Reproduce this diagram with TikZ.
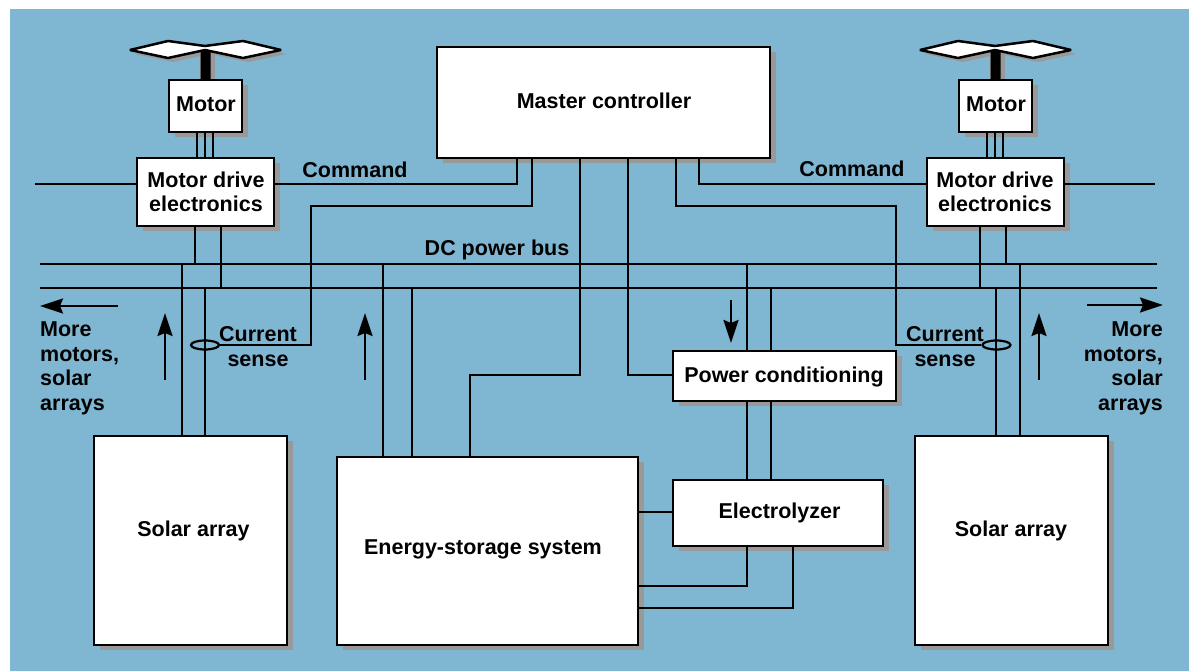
\documentclass[tikz,border=0pt]{standalone}
\usepackage{fontspec}
\setmainfont{Liberation Sans}
\usetikzlibrary{shadows,arrows.meta,shapes.geometric}
\definecolor{bgblue}{HTML}{7FB6D2}
\definecolor{shadowgray}{HTML}{999999}
\tikzset{
  wire/.style={line width=2.2pt,line cap=butt,line join=miter},
  flow/.style={line width=2.4pt,-{Stealth[length=23pt,width=15pt,inset=3pt]}},
  lbl/.style={font=\fontsize{21.5}{24.5}\selectfont\bfseries,align=center,inner sep=0pt},
  lbll/.style={lbl,align=left,anchor=north west},
  lblr/.style={lbl,align=right,anchor=north east},
  unit/.style={draw=black,fill=white,line width=2.6pt,inner sep=0pt,lbl,
    drop shadow={shadow xshift=6pt,shadow yshift=-5pt,opacity=1,fill=shadowgray}},
  blade/.style={draw=black,fill=white,line width=2.5pt,line join=bevel},
  ring/.style={draw=black,line width=2.2pt,ellipse,minimum width=28pt,minimum height=9pt,inner sep=0pt}
}
\newcommand{\unitbox}[5]{% name x1 y1 x2 y2
  \node[unit,minimum width={(#4-#2)*1pt},minimum height={(#5-#3)*1pt}] (#1) at ({(#2+#4)/2},{(#3+#5)/2}) {};
}
\newcommand{\propeller}[1]{% x offset
  \begin{scope}[xshift=#1pt]
    \fill[shadowgray] (200,50) rectangle (215,82);
    \fill[shadowgray,shift={(5pt,-4pt)}] (130,50) -- (168,41) -- (205,46) -- (243,41) -- (281,50) -- (243,58) -- (205,50) -- (168,58) -- cycle;
    \draw[blade] (130,50) -- (168,41) -- (205,46) -- (243,41) -- (281,50) -- (243,58) -- (205,50) -- (168,58) -- cycle;
    \fill[black] (200.5,51) -- (205.5,49) -- (210.5,51) -- (210.5,81) -- (200.5,81) -- cycle;
  \end{scope}
}
\begin{document}
\begin{tikzpicture}[x=1pt,y=-1pt]
\useasboundingbox (0,0) rectangle (1189,671);
\fill[bgblue] (10,9) rectangle (1189,671);
% helper coordinates
\foreach \v in {35,137,165,182,195,197,205,213,221,311,365,383,412,470,517,532,580,628,676,699,731,747,771,793,896,980,987,995,1003,996,1006,1020,1039,1155,1064}
  {\coordinate (x\v) at (\v,0);}
\coordinate (b1l) at (40,264); \coordinate (b1r) at (1157,264);
\coordinate (b2l) at (40,288); \coordinate (b2r) at (1157,288);
\coordinate (yc) at (0,184);
\coordinate (ys) at (0,206);
\coordinate (ym) at (0,375);
% propellers
\propeller{0}
\propeller{790}
% boxes
\unitbox{motl}{169}{80}{242}{132}
\unitbox{mdel}{137}{158}{274}{226}
\unitbox{mc}{437}{47}{770}{158}
\unitbox{motr}{959}{80}{1032}{132}
\unitbox{mder}{927}{158}{1064}{226}
\unitbox{pc}{673}{351}{896}{401}
\unitbox{ely}{673}{480}{883}{546}
\unitbox{ess}{337}{457}{638}{645}
\unitbox{sal}{94}{436}{287}{645}
\unitbox{sar}{915}{436}{1108}{645}
% buses
\draw[wire] (b1l) -- (b1r);
\draw[wire] (b2l) -- (b2r);
% motor to drive
\foreach \v in {197,205,213} {\draw[wire] (x\v |- motl.south) -- (x\v |- mdel.north);}
\foreach \v in {987,995,1003} {\draw[wire] (x\v |- motr.south) -- (x\v |- mder.north);}
% drive to bus
\draw[wire] (x195 |- mdel.south) -- (x195 |- b1l);
\draw[wire] (x221 |- mdel.south) -- (x221 |- b2l);
\draw[wire] (x980 |- mder.south) -- (x980 |- b2l);
\draw[wire] (x1006 |- mder.south) -- (x1006 |- b1l);
% solar to bus
\draw[wire] (x182 |- sal.north) -- (x182 |- b1l);
\draw[wire] (x205 |- sal.north) -- (x205 |- b2l);
\draw[wire] (x996 |- sar.north) -- (x996 |- b2l);
\draw[wire] (x1020 |- sar.north) -- (x1020 |- b1l);
% drive outer lines and commands
\draw[wire] (x35 |- yc) -- (mdel.west |- yc);
\draw[wire] (mder.east |- yc) -- (x1155 |- yc);
\draw[wire] (mdel.east |- yc) -- (x517 |- yc) -- (x517 |- mc.south);
\draw[wire] (mder.west |- yc) -- (x699 |- yc) -- (x699 |- mc.south);
% current sense
\node[ring] (rl) at (205,345) {};
\node[ring] (rr) at (996.5,345) {};
\draw[wire] (x532 |- mc.south) -- (x532 |- ys) -- (x311 |- ys) -- (x311 |- rl.east) -- (rl.east);
\draw[wire] (x676 |- mc.south) -- (x676 |- ys) -- (x896 |- ys) -- (x896 |- rr.west) -- (rr.west);
% master to storage and conditioning
\draw[wire] (x580 |- mc.south) -- (x580 |- ym) -- (x470 |- ym) -- (x470 |- ess.north);
\draw[wire] (x628 |- mc.south) -- (x628 |- ym) -- (pc.west |- ym);
% storage to bus
\draw[wire] (x383 |- ess.north) -- (x383 |- b1l);
\draw[wire] (x412 |- ess.north) -- (x412 |- b2l);
% conditioning
\draw[wire] (x747 |- pc.north) -- (x747 |- b1l);
\draw[wire] (x771 |- pc.north) -- (x771 |- b2l);
\draw[wire] (x747 |- pc.south) -- (x747 |- ely.north);
\draw[wire] (x771 |- pc.south) -- (x771 |- ely.north);
% electrolyzer
\coordinate (y1) at (0,512); \coordinate (y2) at (0,586); \coordinate (y3) at (0,608);
\draw[wire] (ess.east |- y1) -- (ely.west |- y1);
\draw[wire] (x747 |- ely.south) -- (x747 |- y2) -- (ess.east |- y2);
\draw[wire] (x793 |- ely.south) -- (x793 |- y3) -- (ess.east |- y3);
% flow arrows
\coordinate (al1) at (118,306); \coordinate (al2) at (40,306);
\coordinate (ar1) at (1087,305); \coordinate (ar2) at (1163,305);
\draw[flow] (al1) -- (al2);
\draw[flow] (ar1) -- (ar2);
\coordinate (u1) at (165,380); \coordinate (u1t) at (165,313);
\coordinate (u2) at (365,380); \coordinate (u2t) at (365,313);
\coordinate (u3) at (1039,380); \coordinate (u3t) at (1039,313);
\coordinate (d1) at (731,300); \coordinate (d1t) at (731,343);
\draw[flow] (u1) -- (u1t);
\draw[flow] (u2) -- (u2t);
\draw[flow] (u3) -- (u3t);
\draw[flow] (d1) -- (d1t);
% labels
\node[lbl] (tmotl) at (206,104) {Motor};
\node[lbl] (tmotr) at (996,104) {Motor};
\node[lbl] (tmdel) at (206,192) {Motor drive\\electronics};
\node[lbl] (tmder) at (995,192) {Motor drive\\electronics};
\node[lbl] (tmc) at (604,101) {Master controller};
\node[lbl] (tpc) at (784,376.5) {Power conditioning};
\node[lbl] (tely) at (779.5,513) {Electrolyzer};
\node[lbl] (tess) at (483,549) {Energy-storage system};
\node[lbl] (tsal) at (193.5,531) {Solar array};
\node[lbl] (tsar) at (1011,531) {Solar array};
\node[lbl] (tcl) at (355,170) {Command};
\node[lbl] (tcr) at (852,169) {Command};
\node[lbl] (tdc) at (497,249.5) {DC power bus};
\node[lbl] (tcsl) at (258,346.5) {Current\\sense};
\node[lbl] (tcsr) at (945,346.5) {Current\\sense};
\node[lbll] (tml) at (40,322) {More\\motors,\\solar\\arrays};
\node[lblr] (tmr) at (1163,322) {More\\motors,\\solar\\arrays};
\end{tikzpicture}
\end{document}
